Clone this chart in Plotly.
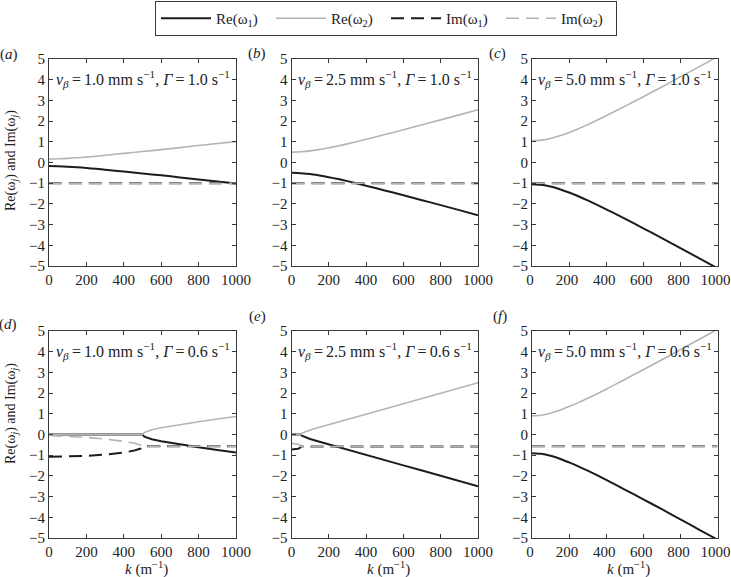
import plotly.graph_objects as go
from plotly.subplots import make_subplots

# ---------------- data ----------------
k_a = [0, 50, 100, 150, 200, 250, 300, 400, 500, 600, 700, 800, 900, 1000]
re1_a = [-0.17, -0.18, -0.20, -0.23, -0.26, -0.30, -0.35, -0.44, -0.53, -0.62, -0.72, -0.82, -0.92, -1.01]
re2_a = [0.17, 0.18, 0.20, 0.23, 0.26, 0.30, 0.35, 0.44, 0.53, 0.62, 0.72, 0.82, 0.92, 1.01]
im1_a = [-1.0] * 14
im2_a = [-1.0] * 14

k_b = [0, 50, 100, 150, 200, 250, 300, 400, 500, 600, 700, 800, 900, 1000]
re1_b = [-0.50, -0.52, -0.56, -0.63, -0.71, -0.80, -0.90, -1.12, -1.35, -1.58, -1.82, -2.06, -2.30, -2.55]
re2_b = [0.50, 0.52, 0.56, 0.63, 0.71, 0.80, 0.90, 1.12, 1.35, 1.58, 1.82, 2.06, 2.30, 2.55]
im1_b = [-1.0] * 14
im2_b = [-1.0] * 14

k_c = [0, 50, 100, 150, 200, 250, 300, 400, 500, 600, 700, 800, 900, 1000]
re1_c = [-1.05, -1.08, -1.16, -1.29, -1.45, -1.63, -1.83, -2.26, -2.71, -3.18, -3.65, -4.14, -4.62, -5.11]
re2_c = [1.05, 1.08, 1.16, 1.29, 1.45, 1.63, 1.83, 2.26, 2.71, 3.18, 3.65, 4.14, 4.62, 5.11]
im1_c = [-1.0] * 14
im2_c = [-1.0] * 14

k_d = [0, 100, 200, 300, 350, 400, 450, 475, 490, 500, 510, 525, 550, 600, 700, 800, 900, 1000]
re1_d = [0, 0, 0, 0, 0, 0, 0, 0, 0, 0, -0.10, -0.16, -0.23, -0.33, -0.49, -0.62, -0.75, -0.87]
re2_d = [0, 0, 0, 0, 0, 0, 0, 0, 0, 0, 0.10, 0.16, 0.23, 0.33, 0.49, 0.62, 0.75, 0.87]
im1_d = [-1.08, -1.07, -1.03, -0.97, -0.93, -0.87, -0.79, -0.73, -0.68, -0.57,
         -0.57, -0.57, -0.57, -0.57, -0.57, -0.57, -0.57, -0.57]
im2_d = [-0.05, -0.08, -0.14, -0.22, -0.27, -0.33, -0.41, -0.46, -0.51, -0.57,
         -0.57, -0.57, -0.57, -0.57, -0.57, -0.57, -0.57, -0.57]

k_e = [0, 20, 35, 45, 50, 55, 60, 70, 80, 100, 150, 200, 300, 400, 500, 600, 700, 800, 900, 1000]
re1_e = [0, 0, 0, 0, 0, -0.06, -0.08, -0.12, -0.16, -0.22, -0.35, -0.48, -0.74, -0.99, -1.25, -1.49, -1.74, -2.00, -2.25, -2.50]
re2_e = [0, 0, 0, 0, 0, 0.06, 0.08, 0.12, 0.16, 0.22, 0.35, 0.48, 0.74, 0.99, 1.25, 1.49, 1.74, 2.00, 2.25, 2.50]
im1_e = [-0.73, -0.72, -0.69, -0.65, -0.58] + [-0.58] * 15
im2_e = [-0.43, -0.44, -0.47, -0.51, -0.58] + [-0.58] * 15

k_f = [0, 50, 100, 150, 200, 250, 300, 400, 500, 600, 700, 800, 900, 1000]
re1_f = [-0.90, -0.93, -1.03, -1.17, -1.35, -1.54, -1.75, -2.19, -2.66, -3.13, -3.61, -4.10, -4.59, -5.08]
re2_f = [0.90, 0.93, 1.03, 1.17, 1.35, 1.54, 1.75, 2.19, 2.66, 3.13, 3.61, 4.10, 4.59, 5.08]
im1_f = [-0.57] * 14
im2_f = [-0.57] * 14

panel_letters = ["a", "b", "c", "d", "e", "f"]
v_beta = ["1.0", "2.5", "5.0", "1.0", "2.5", "5.0"]
gamma = ["1.0", "1.0", "1.0", "0.6", "0.6", "0.6"]
x_ticks = [0, 200, 400, 600, 800, 1000]
y_ticks = [-5, -4, -3, -2, -1, 0, 1, 2, 3, 4, 5]
series_names = ["Re(ω<sub>1</sub>)", "Re(ω<sub>2</sub>)", "Im(ω<sub>1</sub>)", "Im(ω<sub>2</sub>)"]

panels = [
    (k_a, re1_a, re2_a, im1_a, im2_a),
    (k_b, re1_b, re2_b, im1_b, im2_b),
    (k_c, re1_c, re2_c, im1_c, im2_c),
    (k_d, re1_d, re2_d, im1_d, im2_d),
    (k_e, re1_e, re2_e, im1_e, im2_e),
    (k_f, re1_f, re2_f, im1_f, im2_f),
]
# panels with a branch point are drawn with straight segments, the others smoothed
smooth_panel = [True, True, True, False, False, True]

# ---------------- styling ----------------
W, H = 731, 577
FONT = "Liberation Serif"
BLACK = "#1c1c1c"
GREY = "#b4b4b4"
AXC = "#3a3a3a"
TXT = "#222222"
DASH = "13px,7px"

styles = [
    dict(color=BLACK, width=2, dash="solid"),
    dict(color=GREY, width=1.6, dash="solid"),
    dict(color=BLACK, width=2, dash=DASH),
    dict(color=GREY, width=1.6, dash=DASH),
]

fig = make_subplots(rows=2, cols=3)

for i, (k, r1, r2, i1, i2) in enumerate(panels):
    row, col = i // 3 + 1, i % 3 + 1
    for j, ys in enumerate([r1, r2, i1, i2]):
        st = dict(styles[j])
        if smooth_panel[i]:
            st.update(shape="spline", smoothing=0.8)
        fig.add_trace(
            go.Scatter(x=k, y=ys, mode="lines", name=series_names[j],
                       line=st, showlegend=(i == 0), legendrank=j + 1,
                       hoverinfo="skip"),
            row=row, col=col)

# pixel geometry -> paper domains
x_dom_px = [(49, 236), (291.5, 478), (532, 717.5)]
y_dom_px = [(59, 266), (331, 538)]

def xd(p):
    return [p[0] / W, p[1] / W]

def yd(p):
    return [1 - p[1] / H, 1 - p[0] / H]

axis_common = dict(showline=True, linecolor=AXC, linewidth=1, mirror="ticks",
                   ticks="inside", ticklen=4, tickcolor=AXC, tickwidth=1,
                   showgrid=False, zeroline=False, automargin=False,
                   ticklabeloverflow="allow",
                   tickfont=dict(family=FONT, size=15, color=TXT))

annotations = []
for i in range(6):
    r, c = i // 3, i % 3
    n = i + 1
    xa = "xaxis" if n == 1 else f"xaxis{n}"
    ya = "yaxis" if n == 1 else f"yaxis{n}"
    fig.layout[xa].update(domain=xd(x_dom_px[c]), range=[0, 1000], tickvals=x_ticks,
                          ticklabelshift=(-2 if c == 2 else 0), **axis_common)
    fig.layout[ya].update(domain=yd(y_dom_px[r]), range=[-5, 5], tickvals=y_ticks, **axis_common)
    xr = "x" if n == 1 else f"x{n}"
    yr = "y" if n == 1 else f"y{n}"
    annotations.append(dict(
        x=500, y=4.03, xref=xr, yref=yr, showarrow=False,
        text=f"<i>v</i><sub><i>β</i></sub>\u2009=\u2009{v_beta[i]} mm s<sup>−1</sup>, "
             f"<i>Γ</i>\u2009=\u2009{gamma[i]} s<sup>−1</sup>",
        font=dict(family=FONT, size=16, color=TXT), xanchor="center", yanchor="middle"))

# panel labels
label_px = [(9, 55), (257, 54), (497, 54), (8, 324), (257, 316), (500, 316)]
for i, (px, py) in enumerate(label_px):
    annotations.append(dict(x=px / W, y=1 - py / H, xref="paper", yref="paper",
                            text=f"(<i>{panel_letters[i]}</i>)", showarrow=False,
                            font=dict(family=FONT, size=15, color=TXT),
                            xanchor="center", yanchor="middle"))

# y axis titles
for cy in [161, 414]:
    annotations.append(dict(x=11 / W, y=1 - cy / H, xref="paper", yref="paper",
                            text="Re(ω<sub><i>j</i></sub>) and Im(ω<sub><i>j</i></sub>)",
                            textangle=-90, showarrow=False,
                            font=dict(family=FONT, size=14, color=TXT),
                            xanchor="center", yanchor="middle"))

# x axis titles
for c in range(3):
    cx = (x_dom_px[c][0] + x_dom_px[c][1]) / 2 + 4
    annotations.append(dict(x=cx / W, y=1 - 568.5 / H, xref="paper", yref="paper",
                            text="<i>k</i> (m<sup>−1</sup>)", showarrow=False,
                            font=dict(family=FONT, size=15, color=TXT),
                            xanchor="center", yanchor="middle"))

fig.update_layout(
    width=W, height=H,
    margin=dict(l=0, r=0, t=0, b=0),
    paper_bgcolor="white", plot_bgcolor="white",
    font=dict(family=FONT, size=15, color=TXT),
    annotations=annotations,
    showlegend=True,
    legend=dict(orientation="h", x=155 / W, y=1 - 1 / H, xanchor="left", yanchor="top",
                bgcolor="white", bordercolor=AXC, borderwidth=1,
                font=dict(family=FONT, size=15, color=TXT),
                itemwidth=50, entrywidth=50, entrywidthmode="pixels",
                traceorder="normal"),
)

# the page's default body margin would shift the figure; remove it
fig.write_html("out.html", config={"displayModeBar": False},
               post_script="document.body.style.margin='0';")
